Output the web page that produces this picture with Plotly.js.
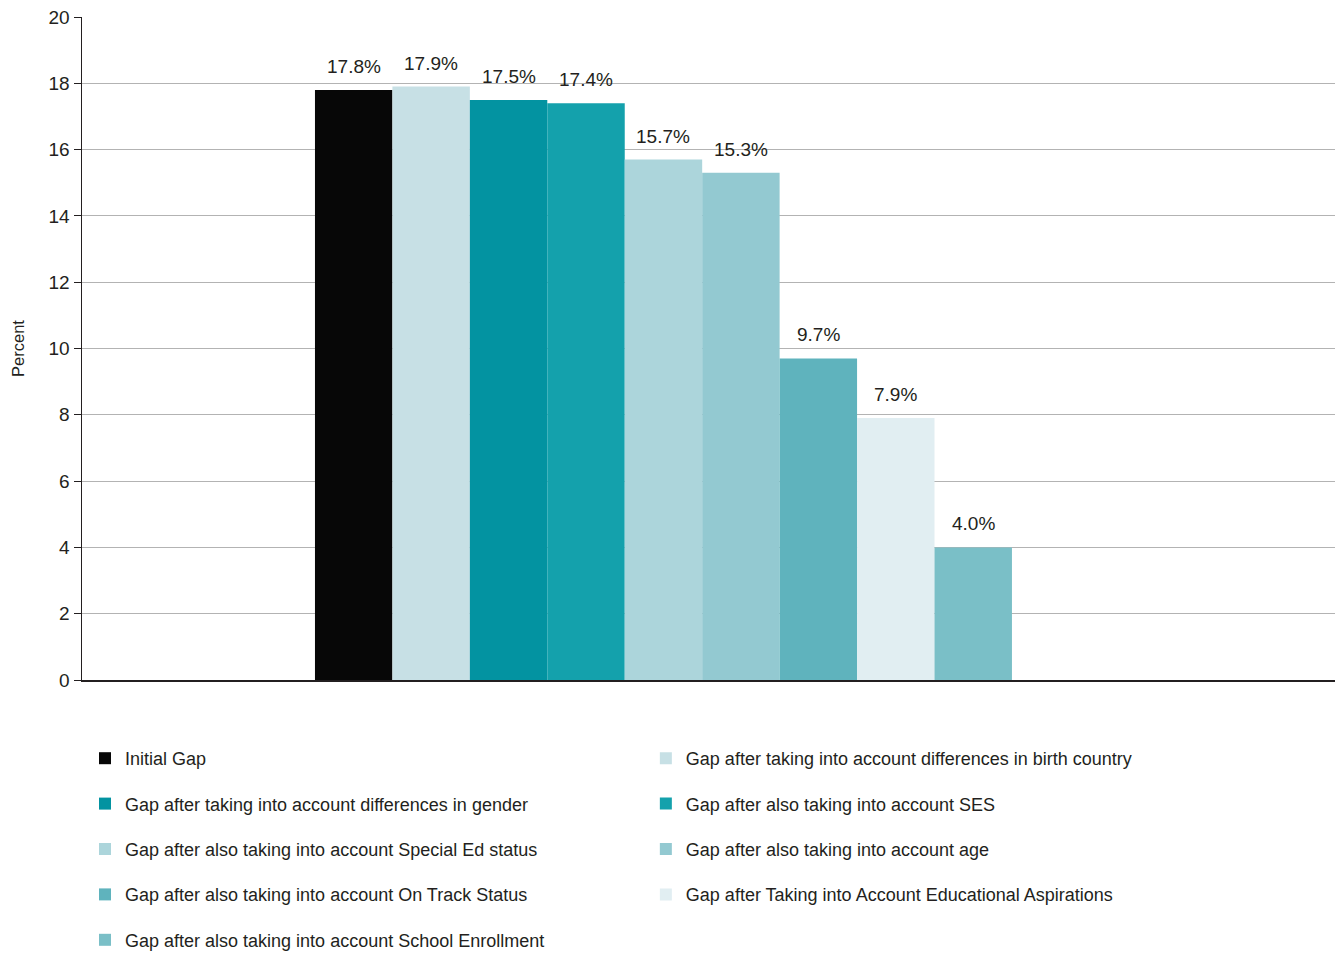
<!DOCTYPE html>
<html>
<head>
<meta charset="utf-8">
<script src="https://cdn.plot.ly/plotly-3.0.1.min.js"></script>
<style>html,body{margin:0;padding:0;background:#fff;}#chart{width:1335px;height:953px;}</style>
</head>
<body>
<div id="chart"></div>
<script>
const seriesNames = [
  "Initial Gap",
  "Gap after taking into account differences in birth country",
  "Gap after taking into account differences in gender",
  "Gap after also taking into account SES",
  "Gap after also taking into account Special Ed status",
  "Gap after also taking into account age",
  "Gap after also taking into account On Track Status",
  "Gap after Taking into Account Educational Aspirations",
  "Gap after also taking into account School Enrollment"
];
const seriesValues = [17.8, 17.9, 17.5, 17.4, 15.7, 15.3, 9.7, 7.9, 4.0];
const seriesColors = ["#070707", "#c7e0e5", "#0393a1", "#14a1ac", "#acd5db", "#93c9d1", "#5fb3bd", "#e1eef2", "#7abfc7"];
const legendColumn = ["legend", "legend2", "legend", "legend2", "legend", "legend2", "legend", "legend2", "legend"];
const yTicks = [0, 2, 4, 6, 8, 10, 12, 14, 16, 18, 20];

const BARGAP = 0.2;
const n = seriesNames.length;

const traces = seriesNames.map((name, i) => ({
  type: "bar",
  name: name,
  x: [0],
  y: [seriesValues[i]],
  marker: {color: seriesColors[i], line: {width: 0}},
  hoverinfo: "name+y",
  legend: legendColumn[i],
  legendgroup: "g" + i
}));

// value labels placed at each grouped bar's centre
const annotations = seriesValues.map((v, i) => ({
  x: (i - (n - 1) / 2) * (1 - BARGAP) / n,
  y: v,
  xref: "x", yref: "y",
  text: v.toFixed(1) + "%",
  showarrow: false,
  yanchor: "bottom",
  yshift: 11,
  font: {family: "Liberation Sans, Arial, sans-serif", size: 19, color: "#231f20"}
}));

const legendFont = {family: "Liberation Sans, Arial, sans-serif", size: 18, color: "#231f20"};

const layout = {
  width: 1335,
  height: 953,
  margin: {l: 82, r: 0, t: 17, b: 273, autoexpand: false},
  paper_bgcolor: "#fff",
  plot_bgcolor: "#fff",
  barmode: "group",
  bargap: BARGAP,
  bargroupgap: 0,
  font: {family: "Liberation Sans, Arial, sans-serif", size: 19, color: "#231f20"},
  annotations: annotations,
  xaxis: {
    type: "linear",
    range: [-0.6674, 0.7708],
    showticklabels: false,
    ticks: "",
    showgrid: false,
    zeroline: false,
    showline: true,
    linecolor: "#231f20",
    linewidth: 1.5,
    fixedrange: true
  },
  yaxis: {
    range: [0, 20],
    tickvals: yTicks,
    ticks: "outside",
    ticklen: 7,
    tickcolor: "#231f20",
    tickwidth: 1,
    showline: true,
    linecolor: "#231f20",
    linewidth: 1.5,
    showgrid: true,
    gridcolor: "#b3b3b3",
    gridwidth: 1,
    zeroline: false,
    tickfont: {family: "Liberation Sans, Arial, sans-serif", size: 19, color: "#231f20"},
    title: {text: "Percent", font: {family: "Liberation Sans, Arial, sans-serif", size: 16.5, color: "#231f20"}, standoff: 20},
    fixedrange: true
  },
  showlegend: true,
  legend: {
    x: 0.0024, xanchor: "left",
    y: -0.0905, yanchor: "top",
    orientation: "v",
    font: legendFont,
    tracegroupgap: 19,
    traceorder: "grouped",
    bgcolor: "rgba(0,0,0,0)",
    itemclick: false, itemdoubleclick: false
  },
  legend2: {
    x: 0.45, xanchor: "left",
    y: -0.0905, yanchor: "top",
    orientation: "v",
    font: legendFont,
    tracegroupgap: 19,
    traceorder: "grouped",
    bgcolor: "rgba(0,0,0,0)",
    itemclick: false, itemdoubleclick: false
  }
};

Plotly.newPlot("chart", traces, layout, {displayModeBar: false, staticPlot: true});
</script>
</body>
</html>
